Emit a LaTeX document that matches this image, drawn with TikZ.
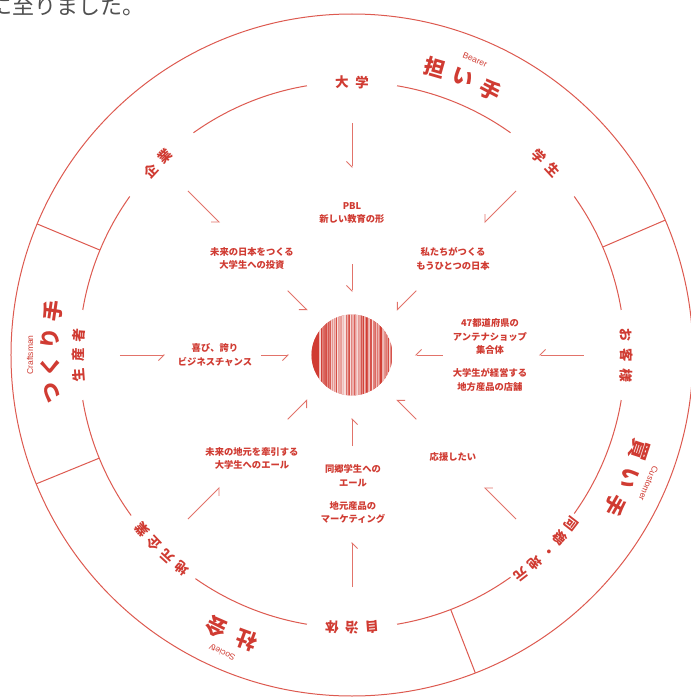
\documentclass[tikz,border=0pt]{standalone}
\usepackage{fontspec}
\usetikzlibrary{arrows.meta}
\newfontfamily\jp{Noto Sans CJK JP}
\newfontfamily\en{Liberation Sans}
\definecolor{tred}{HTML}{D03B32}
\definecolor{lred}{HTML}{DD5A50}
\definecolor{agray}{HTML}{505050}
\tikzset{
  ring/.style={draw=lred, line width=1pt},
  arr/.style={draw=lred!85!white, line width=0.9pt, -{Straight Barb[right, length=5.5pt, width=11pt]}},
  lbl/.style={text=tred, inner sep=0pt, font=\jp\bfseries\fontsize{13.5}{14}\selectfont},
  big/.style={text=tred, inner sep=0pt, font=\jp\bfseries\fontsize{21}{22}\selectfont},
  eng/.style={text=tred, inner sep=0pt, font=\en\fontsize{8.5}{9}\selectfont},
  item/.style={text=tred, inner sep=0pt, align=center, font=\jp\bfseries\fontsize{9.3}{13.8}\selectfont},
  head/.style={text=agray, inner sep=0pt, anchor=base, font=\jp\fontsize{22}{22}\selectfont},
}
% #1 style, #2 centre angle, #3 radius, #4 step, #5 count, #6 chars, #7 name prefix
\newcommand\ringtext[7]{%
  \foreach \ch [count=\i] in {#6}{%
    \pgfmathsetmacro\ang{#2-(\i-(#5+1)/2)*#4}%
    \node[#1, rotate=\ang-90] (#7\i) at (\ang:#3) {\ch};
  }}
\begin{document}
\begin{tikzpicture}[x=1pt,y=1pt]
\useasboundingbox (-352,-342) rectangle (339,355);
\fill[white] (-352,-342) rectangle (339,355);

% cropped heading text
\foreach \ch [count=\i] in {に,至,り,ま,し,た,。}{%
  \node[head] (h\i) at ({-350.5+22*(\i-1)}, 341) {\ch};
}

% outer circle and dividers
\draw[ring] (0,0) circle (341);
\foreach \a in {23.3,157.4,202.2,291.2}
  \draw[ring] (\a:273) -- (\a:341);

% inner circle with gaps
\foreach \a/\b in {9.5/35.5, 54.5/80.5, 99.5/125.5, 144.5/170.5, 189.5/216, 235/260.5, 279.5/305.5, 324.5/350.5}
  \draw[ring] (\a:273) arc[start angle=\a, end angle=\b, radius=273];

% ring labels
\ringtext{lbl}{90}{273}{4.2}{2}{大,学}{la}
\ringtext{lbl}{44.7}{273}{4.2}{2}{学,生}{lb}
\ringtext{lbl}{135.4}{273}{4.2}{2}{企,業}{lc}
\ringtext{lbl}{180}{274}{4.2}{3}{生,産,者}{ld}
\ringtext{lbl}{0}{275}{4.2}{3}{お,客,様}{le}
\ringtext{lbl}{-45}{277}{3.7}{5}{同,郷,・,地,元}{lf}
\ringtext{lbl}{-90}{273}{4.2}{3}{自,治,体}{lg}
\ringtext{lbl}{-134.5}{273}{3.9}{4}{地,元,企,業}{lh}

% big outer labels
\ringtext{big}{68.2}{299}{5.7}{3}{担,い,手}{ba}
\ringtext{big}{179.5}{302}{5.2}{4}{つ,く,り,手}{bb}
\ringtext{big}{-24}{303}{5.8}{3}{買,い,手}{bc}
\ringtext{big}{-113.3}{304}{6.2}{2}{社,会}{bd}

\node[eng, rotate=-22.6] (e1) at (67.4:320) {Bearer};
\node[eng, rotate=90] (e2) at (180:322) {Craftsman};
\node[eng, rotate=-113.4] (e3) at (-23.4:323) {Customer};
\node[eng, rotate=156.4] (e4) at (-113.6:324) {Society};

% central striped disc
\begin{scope}
  \clip (0,0) circle (40.5);
  \fill[tred!45!white] (-41,-41) rectangle (41,41);
  \pgfmathsetseed{42}
  \foreach \i in {0,...,100}{%
    \pgfmathsetmacro\xx{-33+\i*0.73}%
    \pgfmathsetmacro\p{int(15+85*rnd)}%
    \fill[tred!\p!white] (\xx,-41) rectangle ++(0.73,82);
  }
  \fill[tred] (-41,-41) rectangle (-33,41);
\end{scope}

% arrows
\foreach \a [count=\k] in {90,45,135,180,0,-45,-90,-135}{%
  \coordinate (os\k) at (\a:232);
  \coordinate (oe\k) at (\a:187);
  \coordinate (is\k) at (\a:91);
  \coordinate (ie\k) at (\a:63);
  \draw[arr] (os\k) -- (oe\k);
  \draw[arr] (is\k) -- (ie\k);
}

% inner texts
\node[item] (t1) at (0,142) {PBL\\新しい教育の形};
\node[item] (t2) at (-100,96.5) {未来の日本をつくる\\大学生への投資};
\node[item] (t3) at (101,96.5) {私たちがつくる\\もうひとつの日本};
\node[item] (t4) at (-137,0) {喜び、誇り\\ビジネスチャンス};
\node[item] (t5) at (138,18.5) {47都道府県の\\アンテナショップ\\集合体};
\node[item] (t6) at (138,-25) {大学生が経営する\\地方産品の店舗};
\node[item] (t7) at (-100,-103.5) {未来の地元を牽引する\\大学生へのエール};
\node[item] (t8) at (1,-121) {同郷学生への\\エール};
\node[item] (t9) at (1,-157.5) {地元産品の\\マーケティング};
\node[item] (t10) at (101,-102) {応援したい};
\end{tikzpicture}
\end{document}
